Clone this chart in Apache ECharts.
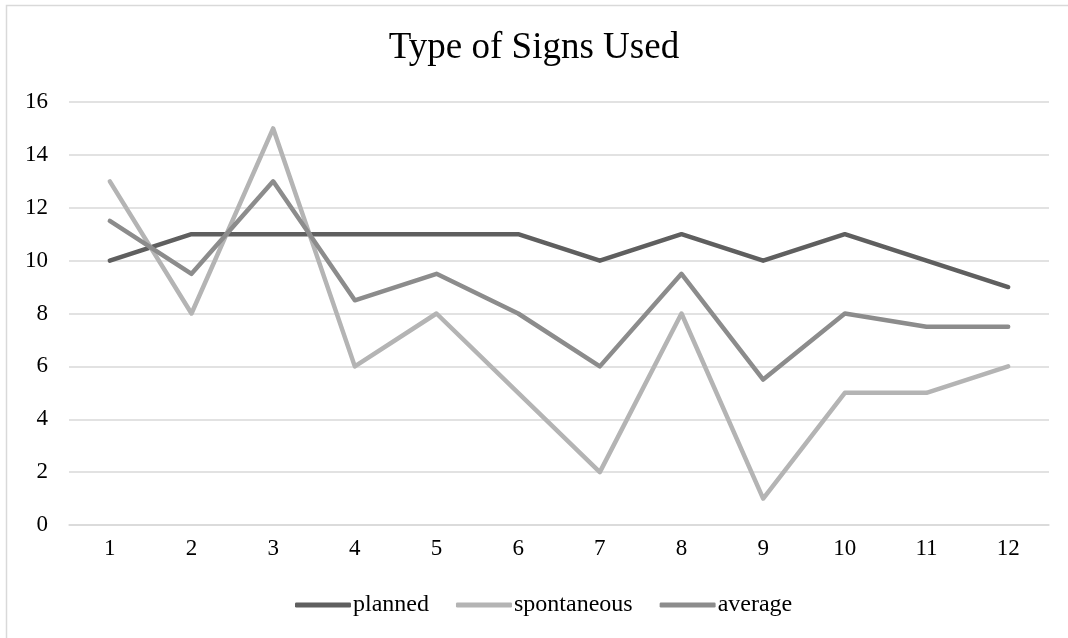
<!DOCTYPE html>
<html>
<head>
<meta charset="utf-8">
<script src="https://cdn.jsdelivr.net/npm/echarts@6/dist/echarts.min.js"></script>
<style>
html,body{margin:0;padding:0;background:#fff;}
#chart{width:1068px;height:638px;}
</style>
</head>
<body>
<div id="chart"></div>
<script>
var categories = ['1','2','3','4','5','6','7','8','9','10','11','12'];
var planned = [10, 11, 11, 11, 11, 11, 10, 11, 10, 11, 10, 9];
var spontaneous = [13, 8, 15, 6, 8, 5, 2, 8, 1, 5, 5, 6];
var average = [11.5, 9.5, 13, 8.5, 9.5, 8, 6, 9.5, 5.5, 8, 7.5, 7.5];
var titleText = 'Type of Signs Used';

var FONT = '"Liberation Serif", "Times New Roman", serif';
var chart = echarts.init(document.getElementById('chart'));

function lineSeries(name, data, color) {
  return {
    name: name, type: 'line', data: data,
    symbol: 'none', smooth: false,
    lineStyle: {color: color, width: 4.5, cap: 'round', join: 'round'},
    itemStyle: {color: color},
    emphasis: {disabled: true}
  };
}

chart.setOption({
  animation: false,
  backgroundColor: '#fff',
  graphic: [{
    type: 'polyline', silent: true,
    shape: {points: [[6.5, 700], [6.5, 5.5], [1100, 5.5]]},
    style: {fill: 'none', stroke: '#d9d9d9', lineWidth: 1.5}
  }],
  title: {
    text: titleText, left: 'center', top: 25,
    textStyle: {fontFamily: FONT, fontWeight: 'normal', fontSize: 37, color: '#000'}
  },
  legend: {
    bottom: 16, left: 290,
    itemWidth: 56, itemHeight: 5, itemGap: 27,
    icon: 'roundRect',
    textStyle: {fontFamily: FONT, fontSize: 24, color: '#000', padding: [0,0,0,-3]},
    data: ['planned', 'spontaneous', 'average']
  },
  grid: {left: 69, right: 19, top: 102, bottom: 113},
  xAxis: {
    type: 'category', data: categories, boundaryGap: true,
    axisLine: {lineStyle: {color: '#d9d9d9', width: 1.5}},
    axisTick: {show: false},
    axisLabel: {fontFamily: FONT, fontSize: 23, color: '#000', margin: 12}
  },
  yAxis: {
    type: 'value', min: 0, max: 16, interval: 2,
    axisLine: {show: false}, axisTick: {show: false},
    splitLine: {lineStyle: {color: '#d9d9d9', width: 1.5}},
    axisLabel: {fontFamily: FONT, fontSize: 23, color: '#000', margin: 21}
  },
  series: [
    lineSeries('planned', planned, '#5f5f5f'),
    lineSeries('spontaneous', spontaneous, '#b4b4b4'),
    lineSeries('average', average, '#8c8c8c')
  ]
});
</script>
</body>
</html>
